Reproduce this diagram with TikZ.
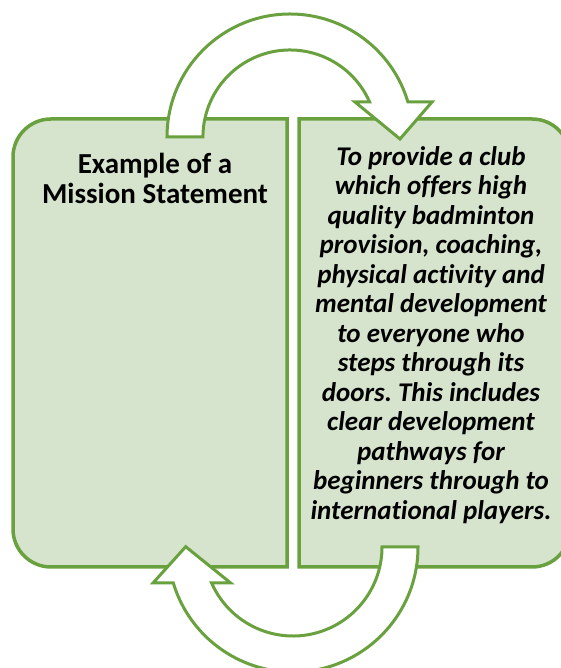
\documentclass[tikz,border=0pt]{standalone}
\usepackage{fontspec}
\setmainfont{Carlito}[Ligatures={NoCommon}]
\definecolor{edge}{HTML}{6AA13F}
\definecolor{panel}{HTML}{D6E4CE}
\begin{document}
\frenchspacing
\begin{tikzpicture}[x=1pt,y=1pt,
  panelbox/.style={draw=edge, line width=3.5pt, fill=panel},
  bentarrow/.style={draw=edge, line width=3pt, fill=white, line join=miter},
  caption/.style={align=center, inner sep=0pt, text=black,
    font=\fontsize{27}{29.5}\selectfont\bfseries}]
\useasboundingbox (0,0) rectangle (561,668);

% left panel, rounded on its outer side
\draw[panelbox] (287,549) -- (51,549) arc[start angle=90,end angle=180,radius=38]
  -- (13,139) arc[start angle=180,end angle=270,radius=38] -- (287,101) -- cycle;

% right panel, rounded on its outer side
\draw[panelbox] (299,549) -- (532,549) arc[start angle=90,end angle=0,radius=38]
  -- (570,139) arc[start angle=0,end angle=-90,radius=38] -- (299,101) -- cycle;

% curved block arrow over the top, left panel to right panel
\draw[bentarrow] (167,531) arc[start angle=180,end angle=16.53,radius=123]
  -- (432,566) -- (400,529) -- (355,566) -- (369.6,566)
  arc[start angle=23.72,end angle=180,radius=87] -- cycle;

% curved block arrow underneath, right panel back to left panel
\draw[bentarrow] (418,121) arc[start angle=0,end angle=-163.26,radius=125]
  -- (153,85) -- (185.7,121.3) -- (230.7,85) -- (211.6,85)
  arc[start angle=-156.14,end angle=0,radius=89] -- cycle;

\node[caption, font=\fontsize{29}{30}\selectfont\bfseries] (title) at (155,490)
  {Example of a\\Mission Statement};

\node[caption, font=\fontsize{27}{29.5}\selectfont\bfseries\itshape] (mission) at (431,333)
  {To provide a club\\which offers high\\quality badminton\\provision, coaching,\\physical activity and\\mental development\\to everyone who\\steps through its\\doors. This includes\\clear development\\pathways for\\beginners through to\\international players.};
\end{tikzpicture}
\end{document}
